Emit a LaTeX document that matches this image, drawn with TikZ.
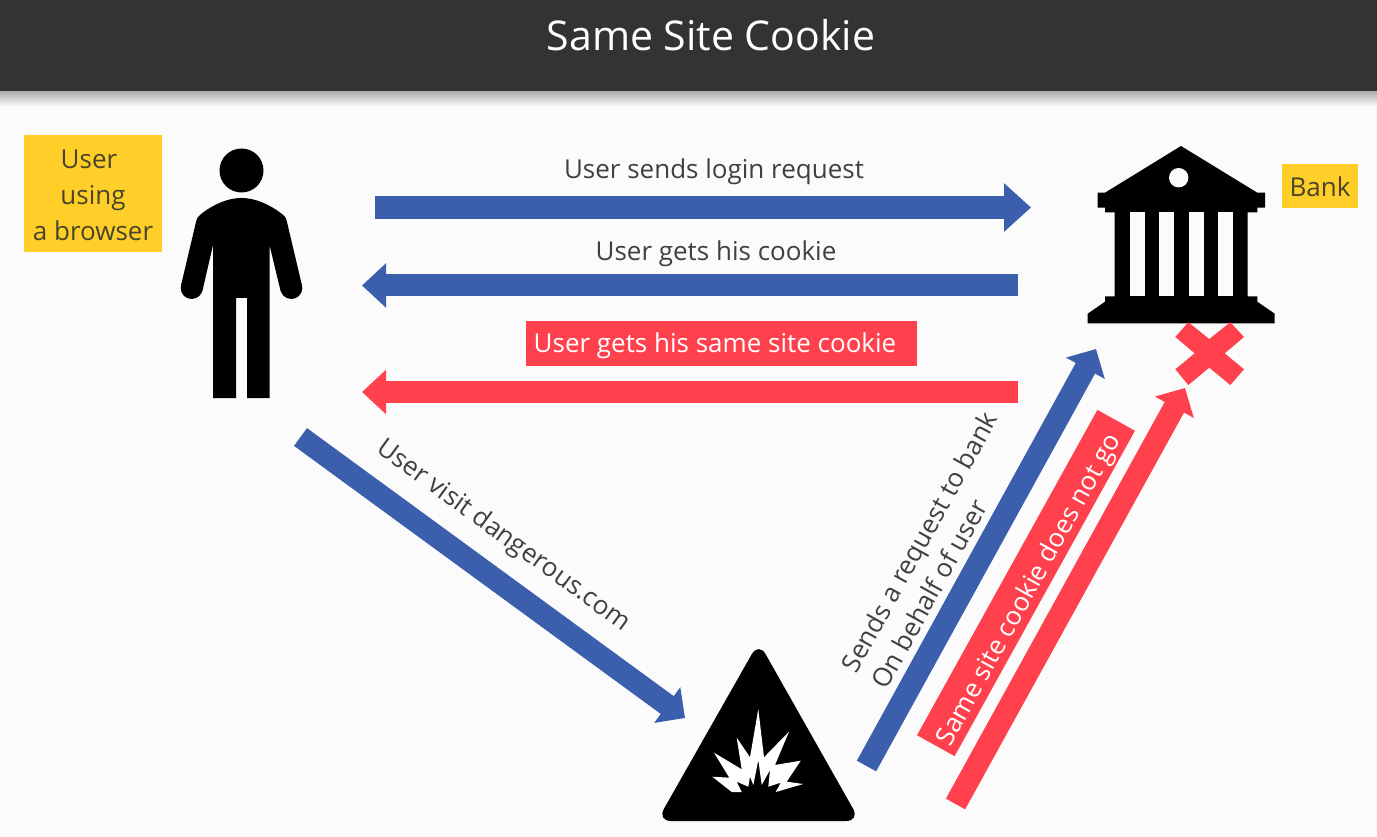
\documentclass[tikz,border=0pt]{standalone}
\usepackage{fontspec}
\usepackage{xcolor}
\setmainfont{Open Sans}
\usetikzlibrary{arrows.meta}
\definecolor{barDark}{HTML}{333333}
\definecolor{pageBg}{HTML}{FBFBFB}
\definecolor{inkText}{HTML}{404040}
\definecolor{tagText}{HTML}{4A4528}
\definecolor{flowBlue}{HTML}{3B5FAD}
\definecolor{flowRed}{HTML}{FF414D}
\definecolor{tagYellow}{HTML}{FFCE29}
\tikzset{
  sendarrow/.style={line width=23pt, -{Triangle[length=27pt,width=47pt]}},
  backarrow/.style={line width=22pt, -{Triangle[length=24pt,width=43pt]}},
  slantarrow/.style={line width=22pt, -{Triangle[length=22pt,width=43pt]}},
  flowlabel/.style={text=inkText, font=\fontsize{26}{34}\selectfont, inner sep=0pt, align=left},
  taglabel/.style={text=tagText, font=\fontsize{26}{36}\selectfont, inner sep=0pt, align=center},
  whitelabel/.style={text=white, font=\fontsize{26}{34}\selectfont, inner sep=0pt},
  tagbox/.style={fill=tagYellow, inner sep=0pt},
  redbox/.style={fill=flowRed, inner sep=0pt},
}
\begin{document}
\begin{tikzpicture}[x=1pt,y=-1pt]
  \useasboundingbox (0,0) rectangle (1377,837);
  \fill[pageBg] (0,0) rectangle (1377,837);

  % Title bar
  \shade[top color=black!35, bottom color=pageBg] (0,90) rectangle (1377,106);
  \fill[barDark] (0,0) rectangle (1377,91);
  \node[text=white, font=\fontsize{41}{48}\selectfont, inner sep=0pt] (title) at (711,35) {Same Site Cookie};

  % User
  \node[tagbox, minimum width=138pt, minimum height=117pt] (usertag) at (93,193.5) {};
  \node[taglabel] (userlab) at (93,195.5) {User\hspace*{8pt}\\using\hspace*{8pt}\\a browser};
  \fill[black] (241.5,170.5) circle (22);
  \fill[black] (191.7,288) circle (11);
  \fill[black] (291.3,288) circle (11);
  \fill[black] (213,398) -- (213,245) -- (202.4,291) -- (181,285.5) -- (196,222)
    .. controls (197,218) and (198,216) .. (201,214)
    .. controls (214,204) and (228,198) .. (241.5,198)
    .. controls (255,198) and (269,204) .. (282,214)
    .. controls (285,216) and (286,218) .. (287,222) -- (302,285.5) -- (280.6,291)
    -- (269.5,245) -- (269.5,398) -- (247,398)
    -- (247,298) -- (236,298) -- (236,398) -- cycle;

  % Bank
  \node[tagbox, minimum width=76pt, minimum height=44pt] (banktag) at (1320,186) {};
  \node[taglabel] (banklab) at (1320,187) {Bank};
  \fill[black] (1181,146) -- (1257.3,192.7) -- (1265,192.7) -- (1265,207.7) -- (1257.3,207.7)
    -- (1257.3,212.3) -- (1247.7,212.3) -- (1247.7,296.3) -- (1257.3,296.3) -- (1257.3,301.7)
    -- (1274.7,313.7) -- (1274.7,323.3) -- (1087.7,323.3) -- (1087.7,313.7) -- (1105,301.7)
    -- (1105,296.3) -- (1114.7,296.3) -- (1114.7,212.3) -- (1105,212.3) -- (1105,207.7)
    -- (1097.7,207.7) -- (1097.7,192.7) -- (1105,192.7) -- cycle;
  \fill[pageBg] (1178.7,177.7) circle (9.7);
  \foreach \gapx in {1129.7,1159,1188.7,1218.3} {
    \fill[pageBg] (\gapx,212.3) rectangle ++(15,84);
  }

  % Blocked mark
  \fill[flowRed] (1188.3,322.3) -- (1209.3,339) -- (1230.3,322.3) -- (1244,337) -- (1224.7,353.3)
    -- (1244,369.3) -- (1230.3,385) -- (1209.3,367.7) -- (1188.3,385) -- (1175.3,369.3)
    -- (1194.7,353.3) -- (1175.3,337) -- cycle;

  % Dangerous site
  \fill[black, rounded corners=14pt] (758.7,642) -- (860,821) -- (657,821) -- cycle;
  \fill[white] (731.7,792) -- (712.3,776.7) -- (729.3,777.7) -- (714,752.7) -- (741.7,769.3)
    -- (736.7,737.7) -- (750,757.3) -- (758.3,709) -- (764,757.3) -- (789,731.7) -- (775,765)
    -- (800.7,760.7) -- (786.7,781.7) -- (803.3,784) -- (775.7,792) -- (780.7,782.7)
    -- (768.3,786.7) -- (770,770) -- (761.7,785) -- (758.3,760) -- (753.3,785) -- (750,776.7)
    -- (748.3,786.7) -- (736.7,781.7) -- (741.7,792) -- cycle;

  % Arrows
  \coordinate (loginA) at (375,207.5);
  \coordinate (loginB) at (1031,207.5);
  \coordinate (cookieA) at (1018,285.5);
  \coordinate (cookieB) at (362,285.5);
  \coordinate (sameA) at (1018,392);
  \coordinate (sameB) at (362,392);
  \coordinate (visitA) at (300.5,437);
  \coordinate (visitB) at (685,718);
  \coordinate (sendA) at (866.5,766);
  \coordinate (sendB) at (1096,349);
  \coordinate (blockA) at (955.5,804);
  \coordinate (blockB) at (1185,388);
  \draw[sendarrow, flowBlue] (loginA) -- (loginB);
  \draw[backarrow, flowBlue] (cookieA) -- (cookieB);
  \draw[backarrow, flowRed] (sameA) -- (sameB);
  \draw[slantarrow, flowBlue] (visitA) -- (visitB);
  \draw[slantarrow, flowBlue] (sendA) -- (sendB);
  \draw[slantarrow, flowRed] (blockA) -- (blockB);

  % Labels
  \node[flowlabel] (loginlab) at (714,172) {User sends login request};
  \node[flowlabel] (cookielab) at (716,254) {User gets his cookie};
  \node[redbox, minimum width=391pt, minimum height=45pt] (samebox) at (721.5,343.5) {};
  \node[whitelabel] (samelab) at (715,346) {User gets his same site cookie};
  \node[flowlabel, rotate=-36] (visitlab) at (503,536) {User visit dangerous.com};
  \node[flowlabel, rotate=61] (sendlab) at (934,550) {Sends a request to bank\\On behalf of user};
  \node[redbox, rotate=61, minimum width=372pt, minimum height=43pt] (blockbox) at (1026,583) {};
  \node[whitelabel, rotate=61] (blocklab) at (1030,590) {Same site cookie does not go};
\end{tikzpicture}
\end{document}
